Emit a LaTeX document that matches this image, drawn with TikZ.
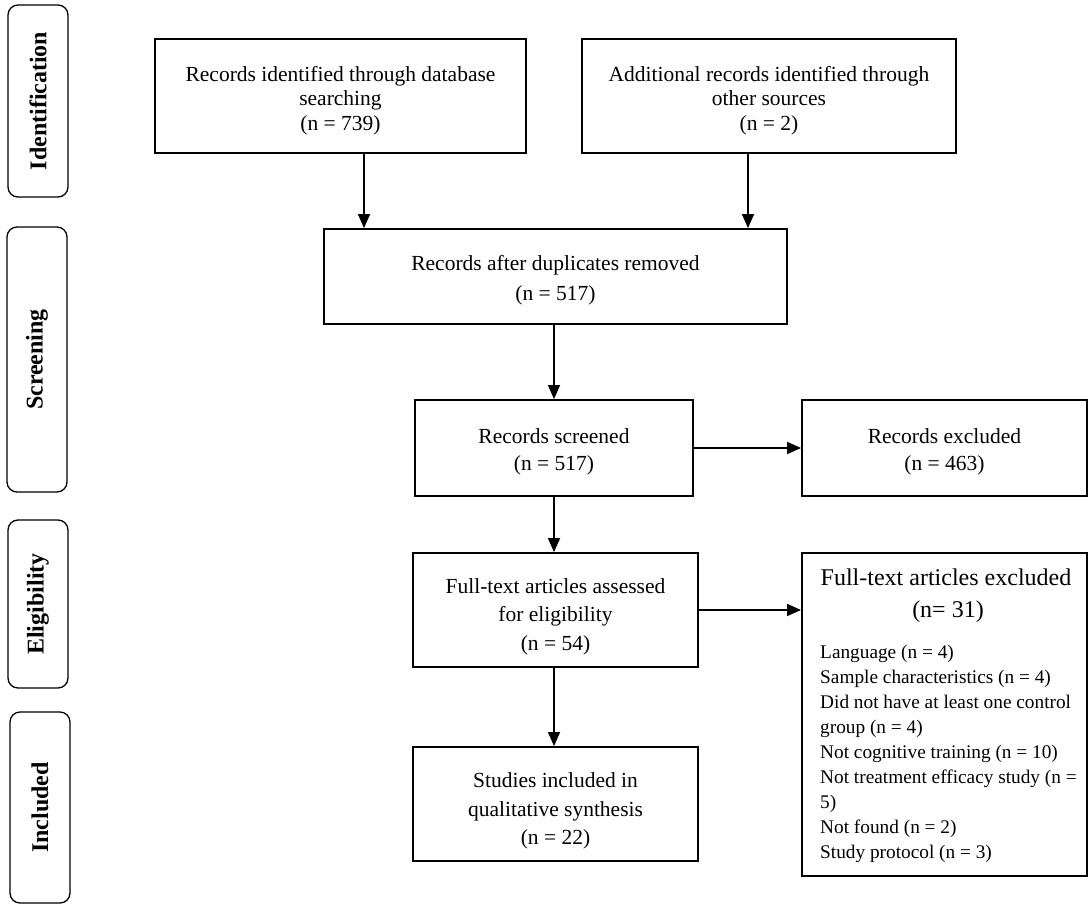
\documentclass[tikz,border=0pt]{standalone}
\usepackage{fontspec}
\setmainfont{Liberation Serif}
\usetikzlibrary{arrows.meta}
\begin{document}
\begin{tikzpicture}[x=1pt,y=-1pt,
  box/.style={draw, line width=1.9pt, inner sep=0pt},
  txt/.style={align=center, inner sep=0pt},
  phase/.style={draw, line width=1.3pt, rounded corners=10pt, inner sep=0pt},
  phtext/.style={rotate=90, inner sep=0pt, font=\fontsize{24}{28}\selectfont\bfseries},
  arr/.style={line width=1.5pt, -{Triangle[length=14pt,width=12pt]}},
  hdr/.style={inner sep=0pt, font=\fontsize{24}{32}\selectfont},
  lst/.style={inner sep=0pt, align=left, font=\fontsize{19.3}{25}\selectfont}]
\useasboundingbox[fill=white] (0,0) rectangle (1091,909);

% phase labels
\node[phase, minimum width=60, minimum height=192] (pid) at (38,101) {};
\node[phtext] (tid) at (pid.center) {Identification};
\node[phase, minimum width=60, minimum height=265] (psc) at (37,359.5) {};
\node[phtext] (tsc) at (psc.center) {Screening};
\node[phase, minimum width=60, minimum height=168] (pel) at (38,604) {};
\node[phtext] (tel) at (pel.center) {Eligibility};
\node[phase, minimum width=60, minimum height=191] (pin) at (40,807.5) {};
\node[phtext] (tin) at (pin.center) {Included};

% boxes
\node[box, minimum width=371, minimum height=114] (b1) at (340.5,96) {};
\node[txt, font=\fontsize{21.5}{24.5}\selectfont] (b1t) at ([yshift=-4.5pt]b1.center)
  {Records identified through database\\searching\\(n = 739)};
\node[box, minimum width=374, minimum height=114] (b2) at (769,96) {};
\node[txt, font=\fontsize{21.5}{24.5}\selectfont] (b2t) at ([yshift=-4.5pt]b2.center)
  {Additional records identified through\\other sources\\(n = 2)};
\node[box, minimum width=463, minimum height=95] (dup) at (555.5,276.5) {};
\node[txt, font=\fontsize{21.5}{30}\selectfont] (dupt) at ([yshift=-3.5pt]dup.center)
  {Records after duplicates removed\\(n = 517)};
\node[box, minimum width=278, minimum height=96] (scr) at (554,448) {};
\node[txt, font=\fontsize{21.5}{26.7}\selectfont] (scrt) at ([yshift=-4pt]scr.center)
  {Records screened\\(n = 517)};
\node[box, minimum width=285, minimum height=96] (exc) at (944.5,448) {};
\node[txt, font=\fontsize{21.5}{26.7}\selectfont] (exct) at ([yshift=-4pt]exc.center)
  {Records excluded\\(n = 463)};
\node[box, minimum width=285, minimum height=114] (ft) at (555.5,610) {};
\node[txt, font=\fontsize{21.5}{28.5}\selectfont] (ftt) at ([yshift=-6.5pt]ft.center)
  {Full-text articles assessed\\for eligibility\\(n = 54)};
\node[box, minimum width=285, minimum height=323] (fe) at (944.5,714.5) {};
\node[hdr] (feh1) at (946,577) {Full-text articles excluded};
\node[hdr] (feh2) at (948,612) {(n= 31)};
\node[lst, anchor=north west] (fel) at (820,645)
  {Language (n = 4)\\
   Sample characteristics (n = 4)\\
   Did not have at least one control\\
   group (n = 4)\\
   Not cognitive training (n = 10)\\
   Not treatment efficacy study (n =\\
   5)\\
   Not found (n = 2)\\
   Study protocol (n = 3)};
\node[box, minimum width=285, minimum height=114] (st) at (555.5,804) {};
\node[txt, font=\fontsize{21.5}{28.3}\selectfont] (stt) at ([yshift=-7pt]st.center)
  {Studies included in\\qualitative synthesis\\(n = 22)};

% connectors
\draw[arr] ([xshift=23.5pt]b1.south) -- ([xshift=23.5pt]b1.south |- dup.north);
\draw[arr] ([xshift=-21pt]b2.south) -- ([xshift=-21pt]b2.south |- dup.north);
\draw[arr] (dup.south -| scr.north) -- (scr.north);
\draw[arr] (scr.east) -- (scr.east -| exc.west);
\draw[arr] (scr.south) -- (scr.south |- ft.north);
\draw[arr] (ft.east) -- (ft.east -| fe.west);
\draw[arr] ([xshift=-1.5pt]ft.south) -- ([xshift=-1.5pt]ft.south |- st.north);
\end{tikzpicture}
\end{document}
